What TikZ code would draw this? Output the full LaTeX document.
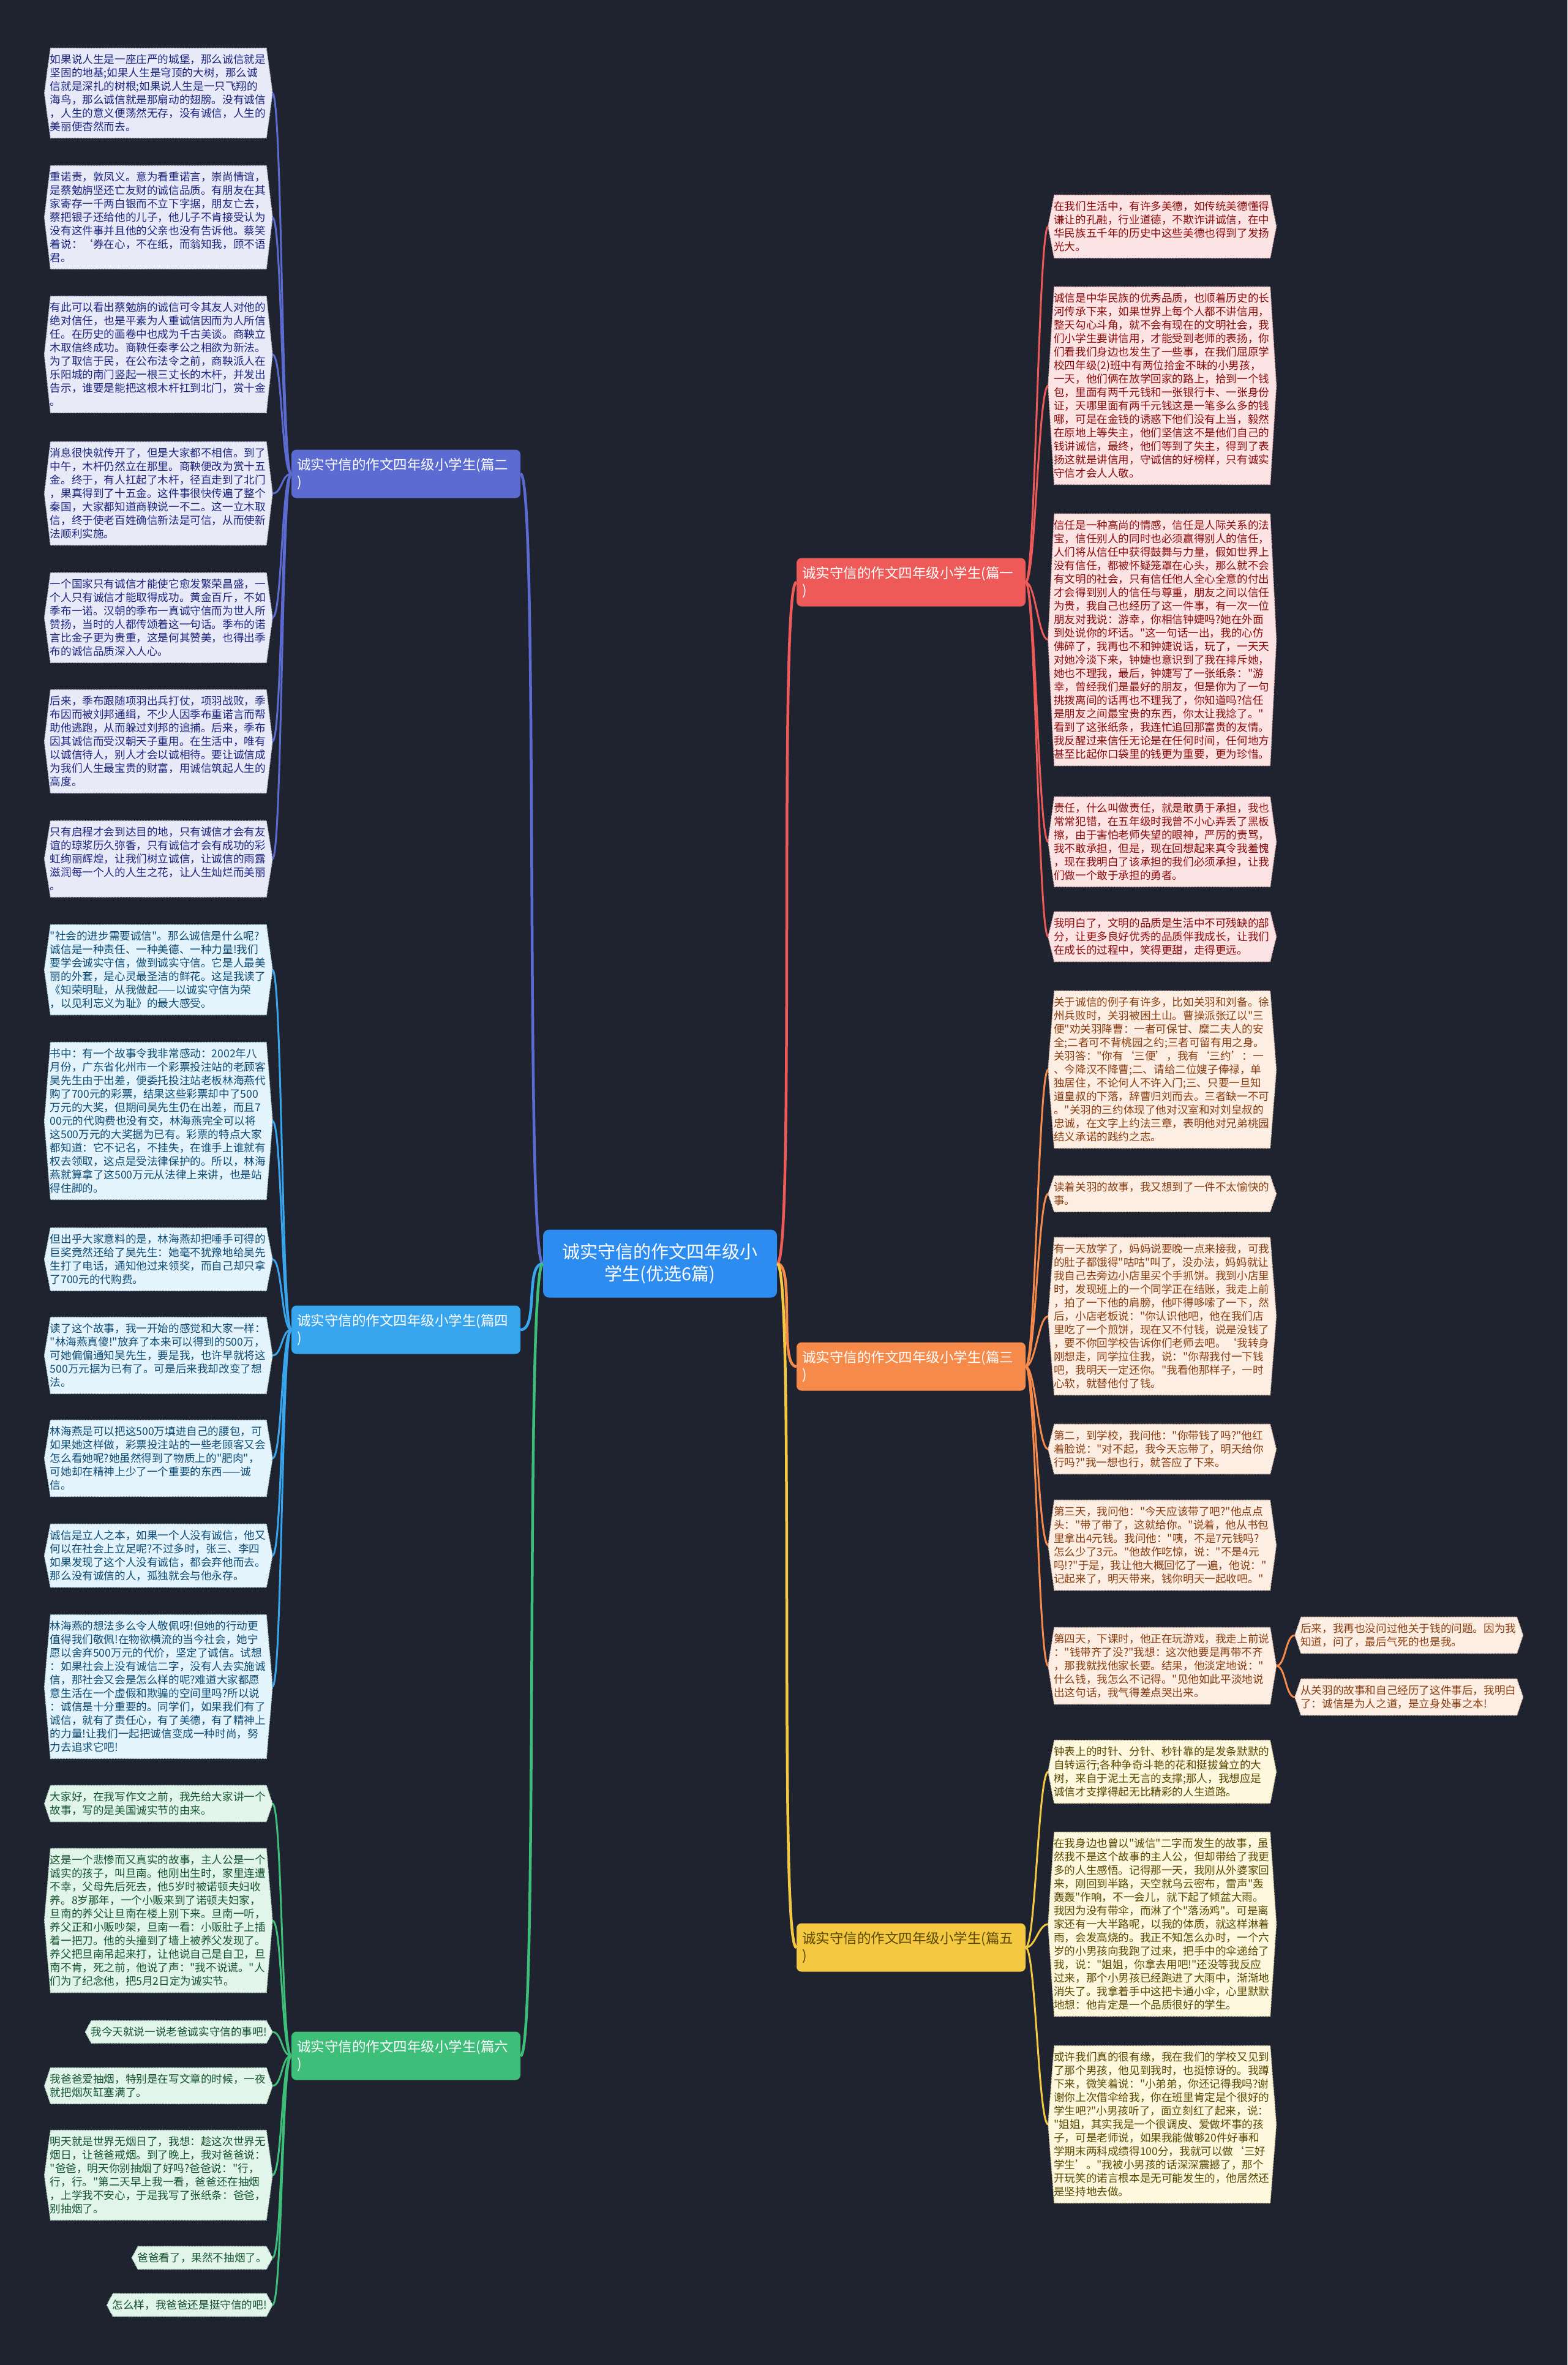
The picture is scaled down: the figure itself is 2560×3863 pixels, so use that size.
\documentclass[tikz,border=0pt]{standalone}
\usepackage{fontspec}
\newfontfamily\cjk{Noto Sans CJK SC}
\pgfdeclarelayer{bgpic}
\pgfdeclarelayer{boxes}
\pgfsetlayers{bgpic,boxes,main}
\definecolor{bgc}{HTML}{1F2330}
\definecolor{ctrc}{HTML}{2D8CF0}
% branch colours
\definecolor{c1}{HTML}{EE5A58}
\definecolor{c2}{HTML}{5B6BD2}
\definecolor{c3}{HTML}{F58A4B}
\definecolor{c4}{HTML}{38A6EE}
\definecolor{c5}{HTML}{F5C842}
\definecolor{c6}{HTML}{3DBF7A}
% leaf fills / borders / texts
\definecolor{f1}{HTML}{FDE4E4}\definecolor{d1}{HTML}{F3C9C9}\definecolor{t1}{HTML}{8B0A0A}
\definecolor{f2}{HTML}{E8EAF8}\definecolor{d2}{HTML}{CDD1EE}\definecolor{t2}{HTML}{1A237E}
\definecolor{f3}{HTML}{FDEEE4}\definecolor{d3}{HTML}{F2D6C4}\definecolor{t3}{HTML}{8A3D0F}
\definecolor{f4}{HTML}{E3F4FD}\definecolor{d4}{HTML}{C5E4F6}\definecolor{t4}{HTML}{0D4A73}
\definecolor{f5}{HTML}{FDF8DE}\definecolor{d5}{HTML}{EFE6B8}\definecolor{t5}{HTML}{5A4800}
\definecolor{f6}{HTML}{E1F5EA}\definecolor{d6}{HTML}{C3E8D3}\definecolor{t6}{HTML}{14532D}
\tikzset{
  leaf/.style={inner xsep=9pt, inner ysep=10pt, align=left, font=\cjk\fontsize{17.6}{22}\selectfont},
  wide/.style={text width=354pt},
  L/.style={anchor=east},
  R/.style={anchor=west},
  branch/.style={rounded corners=8pt, minimum width=374pt, minimum height=79pt, text width=356pt,
    inner xsep=9pt, align=left, text=white, font=\cjk\fontsize{22.5}{28}\selectfont},
  ctrbox/.style={rounded corners=10pt, fill=ctrc, minimum width=382pt, minimum height=111pt,
    align=center, text=white, font=\cjk\fontsize{29}{36}\selectfont},
  trunk/.style={line width=4.5pt},
  twig/.style={line width=3pt}
}
\newcommand\leaf[5]{%
  \node[leaf,text=t#4,#2] (#1) at (#3) {#5};
  \begin{pgfonlayer}{boxes}
  \path[fill=f#4,draw=d#4,line width=1.5pt,densely dotted]
    ([xshift=10pt]#1.north west) -- ([xshift=-10pt]#1.north east) -- (#1.east)
    -- ([xshift=-10pt]#1.south east) -- ([xshift=10pt]#1.south west) -- (#1.west) -- cycle;
  \end{pgfonlayer}}
\begin{document}
\begin{tikzpicture}[x=1pt,y=-1pt]
\begin{pgfonlayer}{bgpic}
\fill[bgc] (0,0) rectangle (2560,3863);
\end{pgfonlayer}
\useasboundingbox (0,0) rectangle (2560,3863);

% centre and branches
\node[ctrbox] (ctr) at (1078,2064) {诚实守信的作文四年级小\\学生(优选6篇)};
\node[branch,fill=c2] (b2) at (663,774) {诚实守信的作文四年级小学生(篇二\\)};
\node[branch,fill=c4] (b4) at (663,2172) {诚实守信的作文四年级小学生(篇四\\)};
\node[branch,fill=c6] (b6) at (663,3358) {诚实守信的作文四年级小学生(篇六\\)};
\node[branch,fill=c1] (b1) at (1488,951) {诚实守信的作文四年级小学生(篇一\\)};
\node[branch,fill=c3] (b3) at (1488,2232) {诚实守信的作文四年级小学生(篇三\\)};
\node[branch,fill=c5,text=t5] (b5) at (1488,3181) {诚实守信的作文四年级小学生(篇五\\)};

% ---- branch 2 (left) ----
\leaf{A1}{L,wide}{445,152}{2}{如果说人生是一座庄严的城堡，那么诚信就是\\坚固的地基;如果人生是穹顶的大树，那么诚\\信就是深扎的树根;如果说人生是一只飞翔的\\海鸟，那么诚信就是那扇动的翅膀。没有诚信\\，人生的意义便荡然无存，没有诚信，人生的\\美丽便杳然而去。}
\leaf{A2}{L,wide}{445,355}{2}{重诺责，敦凤义。意为看重诺言，崇尚情谊，\\是蔡勉旃坚还亡友财的诚信品质。有朋友在其\\家寄存一千两白银而不立下字据，朋友亡去，\\蔡把银子还给他的儿子，他儿子不肯接受认为\\没有这件事并且他的父亲也没有告诉他。蔡笑\\着说：‘券在心，不在纸，而翁知我，顾不语\\君。}
\leaf{A3}{L,wide}{445,579}{2}{有此可以看出蔡勉旃的诚信可令其友人对他的\\绝对信任，也是平素为人重诚信因而为人所信\\任。在历史的画卷中也成为千古美谈。商鞅立\\木取信终成功。商鞅任秦孝公之相欲为新法。\\为了取信于民，在公布法令之前，商鞅派人在\\乐阳城的南门竖起一根三丈长的木杆，并发出\\告示，谁要是能把这根木杆扛到北门，赏十金\\。}
\leaf{A4}{L,wide}{445,806}{2}{消息很快就传开了，但是大家都不相信。到了\\中午，木杆仍然立在那里。商鞅便改为赏十五\\金。终于，有人扛起了木杆，径直走到了北门\\，果真得到了十五金。这件事很快传遍了整个\\秦国，大家都知道商鞅说一不二。这一立木取\\信，终于使老百姓确信新法是可信，从而使新\\法顺利实施。}
\leaf{A5}{L,wide}{445,1009}{2}{一个国家只有诚信才能使它愈发繁荣昌盛，一\\个人只有诚信才能取得成功。黄金百斤，不如\\季布一诺。汉朝的季布一真诚守信而为世人所\\赞扬，当时的人都传颂着这一句话。季布的诺\\言比金子更为贵重，这是何其赞美，也得出季\\布的诚信品质深入人心。}
\leaf{A6}{L,wide}{445,1211}{2}{后来，季布跟随项羽出兵打仗，项羽战败，季\\布因而被刘邦通缉，不少人因季布重诺言而帮\\助他逃跑，从而躲过刘邦的追捕。后来，季布\\因其诚信而受汉朝天子重用。在生活中，唯有\\以诚信待人，别人才会以诚相待。要让诚信成\\为我们人生最宝贵的财富，用诚信筑起人生的\\高度。}
\leaf{A7}{L,wide}{445,1403}{2}{只有启程才会到达目的地，只有诚信才会有友\\谊的琼浆历久弥香，只有诚信才会有成功的彩\\虹绚丽辉煌，让我们树立诚信，让诚信的雨露\\滋润每一个人的人生之花，让人生灿烂而美丽\\。}

% ---- branch 4 (left) ----
\leaf{B1}{L,wide}{445,1584}{4}{"社会的进步需要诚信"。那么诚信是什么呢?\\诚信是一种责任、一种美德、一种力量!我们\\要学会诚实守信，做到诚实守信。它是人最美\\丽的外套，是心灵最圣洁的鲜花。这是我读了\\《知荣明耻，从我做起——以诚实守信为荣\\，以见利忘义为耻》的最大感受。}
\leaf{B2}{L,wide}{445,1831}{4}{书中：有一个故事令我非常感动：2002年八\\月份，广东省化州市一个彩票投注站的老顾客\\吴先生由于出差，便委托投注站老板林海燕代\\购了700元的彩票，结果这些彩票却中了500\\万元的大奖，但期间吴先生仍在出差，而且7\\00元的代购费也没有交，林海燕完全可以将\\这500万元的大奖据为已有。彩票的特点大家\\都知道：它不记名，不挂失，在谁手上谁就有\\权去领取，这点是受法律保护的。所以，林海\\燕就算拿了这500万元从法律上来讲，也是站\\得住脚的。}
\leaf{B3}{L,wide}{445,2057}{4}{但出乎大家意料的是，林海燕却把唾手可得的\\巨奖竟然还给了吴先生：她毫不犹豫地给吴先\\生打了电话，通知他过来领奖，而自己却只拿\\了700元的代购费。}
\leaf{B4}{L,wide}{445,2214}{4}{读了这个故事，我一开始的感觉和大家一样：\\"林海燕真傻!"放弃了本来可以得到的500万，\\可她偏偏通知吴先生，要是我，也许早就将这\\500万元据为已有了。可是后来我却改变了想\\法。}
\leaf{B5}{L,wide}{445,2382}{4}{林海燕是可以把这500万填进自己的腰包，可\\如果她这样做，彩票投注站的一些老顾客又会\\怎么看她呢?她虽然得到了物质上的"肥肉"，\\可她却在精神上少了一个重要的东西——诚\\信。}
\leaf{B6}{L,wide}{445,2541}{4}{诚信是立人之本，如果一个人没有诚信，他又\\何以在社会上立足呢?不过多时，张三、李四\\如果发现了这个人没有诚信，都会弃他而去。\\那么没有诚信的人，孤独就会与他永存。}
\leaf{B7}{L,wide}{445,2755}{4}{林海燕的想法多么令人敬佩呀!但她的行动更\\值得我们敬佩!在物欲横流的当今社会，她宁\\愿以舍弃500万元的代价，坚定了诚信。试想\\：如果社会上没有诚信二字，没有人去实施诚\\信，那社会又会是怎么样的呢?难道大家都愿\\意生活在一个虚假和欺骗的空间里吗?所以说\\：诚信是十分重要的。同学们，如果我们有了\\诚信，就有了责任心，有了美德，有了精神上\\的力量!让我们一起把诚信变成一种时尚，努\\力去追求它吧!}

% ---- branch 6 (left) ----
\leaf{C1}{L,wide}{445,2946}{6}{大家好，在我写作文之前，我先给大家讲一个\\故事，写的是美国诚实节的由来。}
\leaf{C2}{L,wide}{445,3137}{6}{这是一个悲惨而又真实的故事，主人公是一个\\诚实的孩子，叫旦南。他刚出生时，家里连遭\\不幸，父母先后死去，他5岁时被诺顿夫妇收\\养。8岁那年，一个小贩来到了诺顿夫妇家，\\旦南的养父让旦南在楼上别下来。旦南一听，\\养父正和小贩吵架，旦南一看：小贩肚子上插\\着一把刀。他的头撞到了墙上被养父发现了。\\养父把旦南吊起来打，让他说自己是自卫，旦\\南不肯，死之前，他说了声："我不说谎。"人\\们为了纪念他，把5月2日定为诚实节。}
\leaf{C3}{L}{445,3319}{6}{我今天就说一说老爸诚实守信的事吧!}
\leaf{C4}{L,wide}{445,3407}{6}{我爸爸爱抽烟，特别是在写文章的时候，一夜\\就把烟灰缸塞满了。}
\leaf{C5}{L,wide}{445,3553}{6}{明天就是世界无烟日了，我想：趁这次世界无\\烟日，让爸爸戒烟。到了晚上，我对爸爸说：\\"爸爸，明天你别抽烟了好吗?爸爸说："行，\\行，行。"第二天早上我一看，爸爸还在抽烟\\，上学我不安心，于是我写了张纸条：爸爸，\\别抽烟了。}
\leaf{C6}{L}{445,3688}{6}{爸爸看了，果然不抽烟了。}
\leaf{C7}{L}{445,3765}{6}{怎么样，我爸爸还是挺守信的吧!}

% ---- branch 1 (right) ----
\leaf{D1}{R,wide}{1712,370}{1}{在我们生活中，有许多美德，如传统美德懂得\\谦让的孔融，行业道德，不欺诈讲诚信，在中\\华民族五千年的历史中这些美德也得到了发扬\\光大。}
\leaf{D2}{R,wide}{1712,630}{1}{诚信是中华民族的优秀品质，也顺着历史的长\\河传承下来，如果世界上每个人都不讲信用，\\整天勾心斗角，就不会有现在的文明社会，我\\们小学生要讲信用，才能受到老师的表扬，你\\们看我们身边也发生了一些事，在我们屈原学\\校四年级(2)班中有两位拾金不昧的小男孩，\\一天，他们俩在放学回家的路上，拾到一个钱\\包，里面有两千元钱和一张银行卡、一张身份\\证，天哪里面有两千元钱这是一笔多么多的钱\\哪，可是在金钱的诱惑下他们没有上当，毅然\\在原地上等失主，他们坚信这不是他们自己的\\钱讲诚信，最终，他们等到了失主，得到了表\\扬这就是讲信用，守诚信的好榜样，只有诚实\\守信才会人人敬。}
\leaf{D3}{R,wide}{1712,1045}{1}{信任是一种高尚的情感，信任是人际关系的法\\宝，信任别人的同时也必须赢得别人的信任，\\人们将从信任中获得鼓舞与力量，假如世界上\\没有信任，都被怀疑笼罩在心头，那么就不会\\有文明的社会，只有信任他人全心全意的付出\\才会得到别人的信任与尊重，朋友之间以信任\\为贵，我自己也经历了这一件事，有一次一位\\朋友对我说：游幸，你相信钟婕吗?她在外面\\到处说你的坏话。"这一句话一出，我的心仿\\佛碎了，我再也不和钟婕说话，玩了，一天天\\对她冷淡下来，钟婕也意识到了我在排斥她，\\她也不理我，最后，钟婕写了一张纸条："游\\幸，曾经我们是最好的朋友，但是你为了一句\\挑拨离间的话再也不理我了，你知道吗?信任\\是朋友之间最宝贵的东西，你太让我捻了。"\\看到了这张纸条，我连忙追回那富贵的友情。\\我反醒过来信任无论是在任何时间，任何地方\\甚至比起你口袋里的钱更为重要，更为珍惜。}
\leaf{D4}{R,wide}{1712,1375}{1}{责任，什么叫做责任，就是敢勇于承担，我也\\常常犯错，在五年级时我曾不小心弄丢了黑板\\擦，由于害怕老师失望的眼神，严厉的责骂，\\我不敢承担，但是，现在回想起来真令我羞愧\\，现在我明白了该承担的我们必须承担，让我\\们做一个敢于承担的勇者。}
\leaf{D5}{R,wide}{1712,1530}{1}{我明白了，文明的品质是生活中不可残缺的部\\分，让更多良好优秀的品质伴我成长，让我们\\在成长的过程中，笑得更甜，走得更远。}

% ---- branch 3 (right) ----
\leaf{E1}{R,wide}{1712,1747}{3}{关于诚信的例子有许多，比如关羽和刘备。徐\\州兵败时，关羽被困土山。曹操派张辽以"三\\便"劝关羽降曹：一者可保甘、糜二夫人的安\\全;二者可不背桃园之约;三者可留有用之身。\\关羽答："你有‘三便’，我有‘三约’：一\\、今降汉不降曹;二、请给二位嫂子俸禄，单\\独居住，不论何人不许入门;三、只要一旦知\\道皇叔的下落，辞曹归刘而去。三者缺一不可\\。"关羽的三约体现了他对汉室和对刘皇叔的\\忠诚，在文字上约法三章，表明他对兄弟桃园\\结义承诺的践约之志。}
\leaf{E2}{R,wide}{1712,1950}{3}{读着关羽的故事，我又想到了一件不太愉快的\\事。}
\leaf{E3}{R,wide}{1712,2150}{3}{有一天放学了，妈妈说要晚一点来接我，可我\\的肚子都饿得"咕咕"叫了，没办法，妈妈就让\\我自己去旁边小店里买个手抓饼。我到小店里\\时，发现班上的一个同学正在结账，我走上前\\，拍了一下他的肩膀，他吓得哆嗦了一下，然\\后，小店老板说："你认识他吧，他在我们店\\里吃了一个煎饼，现在又不付钱，说是没钱了\\，要不你回学校告诉你们老师去吧。‘我转身\\刚想走，同学拉住我，说："你帮我付一下钱\\吧，我明天一定还你。"我看他那样子，一时\\心软，就替他付了钱。}
\leaf{E4}{R,wide}{1712,2367}{3}{第二，到学校，我问他："你带钱了吗?"他红\\着脸说："对不起，我今天忘带了，明天给你\\行吗?"我一想也行，就答应了下来。}
\leaf{E5}{R,wide}{1712,2524}{3}{第三天，我问他："今天应该带了吧?"他点点\\头："带了带了，这就给你。"说着，他从书包\\里拿出4元钱。我问他："咦，不是7元钱吗?\\怎么少了3元。"他故作吃惊，说："不是4元\\吗!?"于是，我让他大概回忆了一遍，他说："\\记起来了，明天带来，钱你明天一起收吧。"}
\leaf{E6}{R,wide}{1712,2721}{3}{第四天，下课时，他正在玩游戏，我走上前说\\："钱带齐了没?"我想：这次他要是再带不齐\\，那我就找他家长要。结果，他淡定地说："\\什么钱，我怎么不记得。"见他如此平淡地说\\出这句话，我气得差点哭出来。}
\leaf{G1}{R,wide}{2115,2671}{3}{后来，我再也没问过他关于钱的问题。因为我\\知道，问了，最后气死的也是我。}
\leaf{G2}{R,wide}{2115,2772}{3}{从关羽的故事和自己经历了这件事后，我明白\\了：诚信是为人之道，是立身处事之本!}

% ---- branch 5 (right) ----
\leaf{F1}{R,wide}{1712,2894}{5}{钟表上的时针、分针、秒针靠的是发条默默的\\自转运行;各种争奇斗艳的花和挺拔耸立的大\\树，来自于泥土无言的支撑;那人，我想应是\\诚信才支撑得起无比精彩的人生道路。}
\leaf{F2}{R,wide}{1712,3143}{5}{在我身边也曾以"诚信"二字而发生的故事，虽\\然我不是这个故事的主人公，但却带给了我更\\多的人生感悟。记得那一天，我刚从外婆家回\\来，刚回到半路，天空就乌云密布，雷声"轰\\轰轰"作响，不一会儿，就下起了倾盆大雨。\\我因为没有带伞，而淋了个"落汤鸡"。可是离\\家还有一大半路呢，以我的体质，就这样淋着\\雨，会发高烧的。我正不知怎么办时，一个六\\岁的小男孩向我跑了过来，把手中的伞递给了\\我，说："姐姐，你拿去用吧!"还没等我反应\\过来，那个小男孩已经跑进了大雨中，渐渐地\\消失了。我拿着手中这把卡通小伞，心里默默\\地想：他肯定是一个品质很好的学生。}
\leaf{F3}{R,wide}{1712,3470}{5}{或许我们真的很有缘，我在我们的学校又见到\\了那个男孩，他见到我时，也挺惊讶的。我蹲\\下来，微笑着说："小弟弟，你还记得我吗?谢\\谢你上次借伞给我，你在班里肯定是个很好的\\学生吧?"小男孩听了，面立刻红了起来，说：\\"姐姐，其实我是一个很调皮、爱做坏事的孩\\子，可是老师说，如果我能做够20件好事和\\学期末两科成绩得100分，我就可以做‘三好\\学生’。"我被小男孩的话深深震撼了，那个\\开玩笑的诺言根本是无可能发生的，他居然还\\是坚持地去做。}

% ---- connectors: centre to branches ----
\foreach \b/\c in {b2/c2,b4/c4,b6/c6}
  \draw[trunk,\c] (ctr.west) .. controls +(-30,0) and +(30,0) .. (\b.east);
\foreach \b/\c in {b1/c1,b3/c3,b5/c5}
  \draw[trunk,\c] (ctr.east) .. controls +(30,0) and +(-30,0) .. (\b.west);

% ---- connectors: branches to leaves ----
\foreach \n in {A1,A2,A3,A4,A5,A6,A7}
  \draw[twig,c2] (b2.west) .. controls +(-16,0) and +(16,0) .. (\n.east);
\foreach \n in {B1,B2,B3,B4,B5,B6,B7}
  \draw[twig,c4] (b4.west) .. controls +(-16,0) and +(16,0) .. (\n.east);
\foreach \n in {C1,C2,C3,C4,C5,C6,C7}
  \draw[twig,c6] (b6.west) .. controls +(-16,0) and +(16,0) .. (\n.east);
\foreach \n in {D1,D2,D3,D4,D5}
  \draw[twig,c1] (b1.east) .. controls +(16,0) and +(-16,0) .. (\n.west);
\foreach \n in {E1,E2,E3,E4,E5,E6}
  \draw[twig,c3] (b3.east) .. controls +(16,0) and +(-16,0) .. (\n.west);
\foreach \n in {G1,G2}
  \draw[twig,c3] (E6.east) .. controls +(16,0) and +(-16,0) .. (\n.west);
\foreach \n in {F1,F2,F3}
  \draw[twig,c5] (b5.east) .. controls +(16,0) and +(-16,0) .. (\n.west);
\end{tikzpicture}
\end{document}
